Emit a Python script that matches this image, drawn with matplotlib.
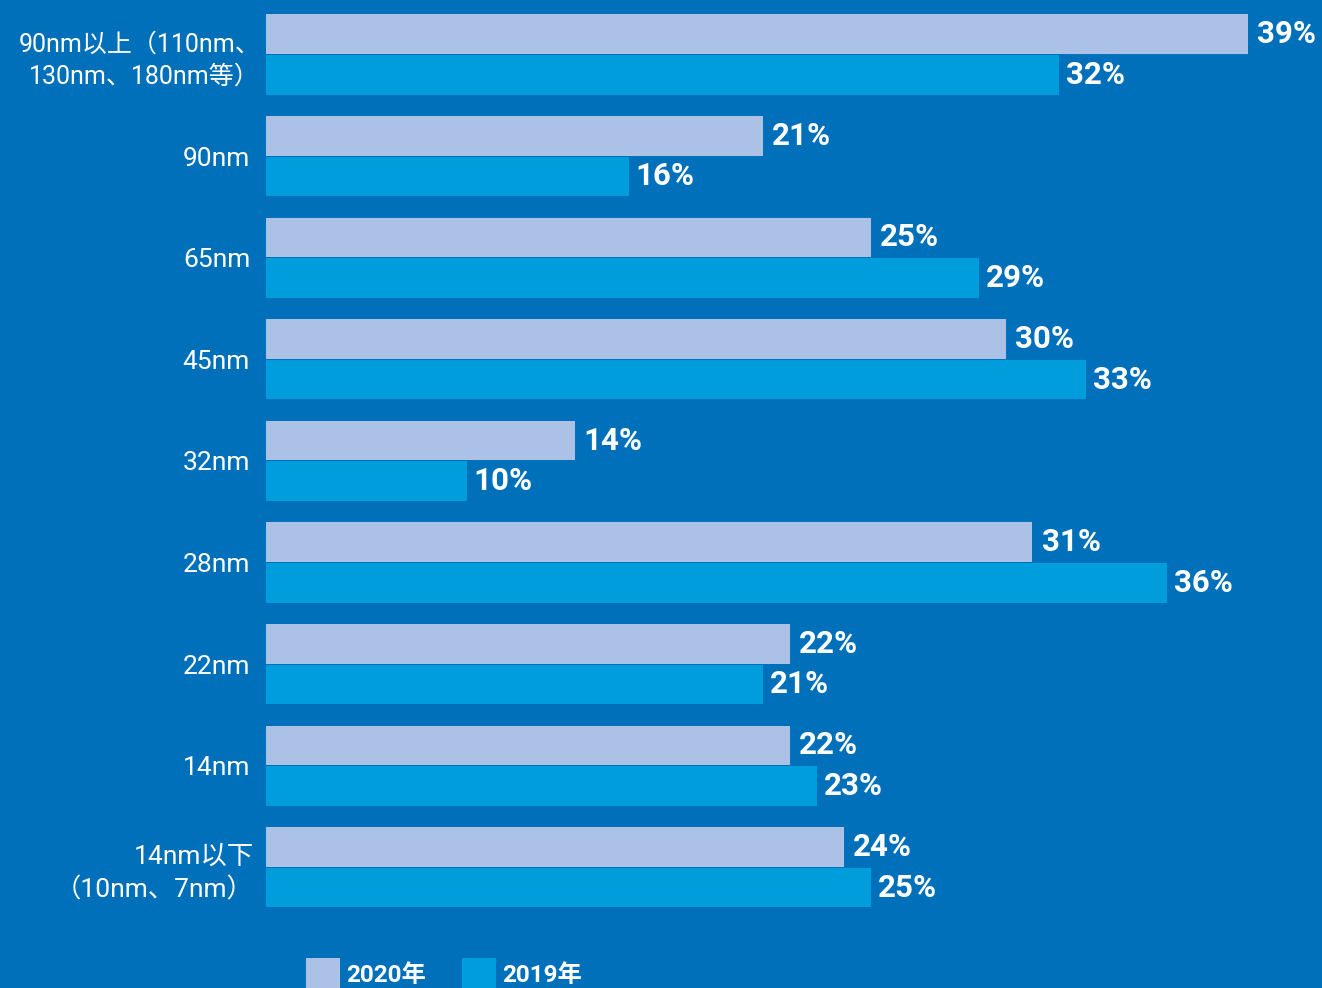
import matplotlib
matplotlib.use("Agg")
import matplotlib.pyplot as plt
import matplotlib.transforms as mtransforms
import numpy as np

# 工艺节点
categories = ["90nm以上（110nm、\n130nm、180nm等）", "90nm", "65nm", "45nm", "32nm",
              "28nm", "22nm", "14nm", "14nm以下\n（10nm、7nm）"]
vals_2020 = [39, 21, 25, 30, 14, 31, 22, 22, 24]
vals_2019 = [32, 16, 29, 33, 10, 36, 21, 23, 25]
series_names = ["2020年", "2019年"]

bg = "#0070BA"
c2020 = "#ABC1E5"
c2019 = "#009DDD"
fam = ["Roboto", "Noto Sans CJK SC", "DejaVu Sans"]
plt.rcParams["font.family"] = fam

fig = plt.figure(figsize=(13.22, 9.88), dpi=100, facecolor=bg)
ax = fig.add_axes([266 / 1322, 0, 1 - 266 / 1322, 1])
ax.set_facecolor(bg)

y = np.arange(len(categories))
h = 0.39
b1 = ax.barh(y - 0.2, vals_2020, height=h, color=c2020, label=series_names[0])
b2 = ax.barh(y + 0.2, vals_2019, height=h, color=c2019, label=series_names[1])

for bars, vals, pad in [(b1, vals_2020, 6.5), (b2, vals_2019, 5)]:
    for rect, v in zip(bars, vals):
        ax.annotate(f"{v}%", (v, rect.get_y() + rect.get_height() / 2),
                    xytext=(pad, 0), textcoords="offset points",
                    ha="left", va="center", color="white", fontsize=22.5,
                    fontweight="bold", family=fam)

ax.set_xlim(2.54, 41.75)
ax.set_ylim(9.188, -0.536)
ax.set_yticks(y)
ax.set_yticklabels(categories, fontsize=19, color="white", linespacing=1.4)
ax.tick_params(axis="y", length=0, pad=11.5)
ax.set_xticks([])
for s in ax.spines.values():
    s.set_visible(False)

# 全角标点右侧留白较多, 两行标签稍向右移
labels = ax.get_yticklabels()
labels[0].set_fontsize(18)
for idx, dx in [(0, 10), (8, 4)]:
    off = mtransforms.ScaledTranslation(dx / 100, 0, fig.dpi_scale_trans)
    labels[idx].set_transform(labels[idx].get_transform() + off)

fig.legend(handles=[b1, b2], labels=series_names, loc="upper left",
           bbox_to_anchor=(306 / 1322, 30 / 988), ncol=2, frameon=False,
           borderpad=0, borderaxespad=0, handlelength=1.4, handleheight=1.6,
           handletextpad=0.25, columnspacing=1.5,
           prop={"family": fam, "weight": "bold", "size": 17.5},
           labelcolor="white")

fig.savefig("out.png", dpi=100, facecolor=bg)
